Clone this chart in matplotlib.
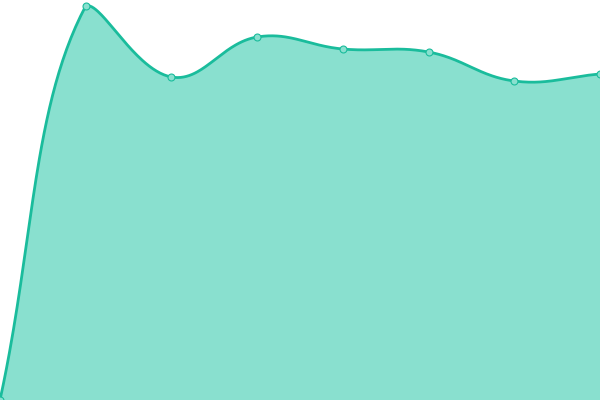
import numpy as np
import matplotlib
matplotlib.use("Agg")
import matplotlib.pyplot as plt

# data
labels = ["1", "2", "3", "4", "5", "6", "7", "8"]
values = [0, 394, 323, 363, 351, 348, 319, 326]

LINE = "#1abc9c"
FILL = "#89e0cf"

fig = plt.figure(figsize=(6, 4), dpi=100)
ax = fig.add_axes([0, 0, 1, 1])
ax.set_xlim(0, len(values) - 1)
ax.set_ylim(0, 400)
ax.axis("off")

xs = np.arange(len(values), dtype=float)
pts = ax.transData.transform(np.column_stack([xs, values]))
W, H = fig.bbox.width, fig.bbox.height

# Chart.js-style spline (tension 0.4) in display space
t = 0.4
n = len(pts)
cp_prev = np.zeros_like(pts)
cp_next = np.zeros_like(pts)
for i in range(n):
    p1 = pts[i]
    p0 = pts[i - 1] if i > 0 else p1
    p2 = pts[i + 1] if i < n - 1 else p1
    d01 = np.hypot(*(p1 - p0))
    d12 = np.hypot(*(p2 - p1))
    tot = d01 + d12
    s01 = d01 / tot if tot else 0
    s12 = d12 / tot if tot else 0
    cp_prev[i] = p1 - t * s01 * (p2 - p0)
    cp_next[i] = p1 + t * s12 * (p2 - p0)
for arr in (cp_prev, cp_next):
    arr[:, 0] = np.clip(arr[:, 0], 0, W)
    arr[:, 1] = np.clip(arr[:, 1], 0, H)

curve = []
u = np.linspace(0, 1, 60)[:, None]
for i in range(n - 1):
    P0, P1, P2, P3 = pts[i], cp_next[i], cp_prev[i + 1], pts[i + 1]
    seg = ((1 - u) ** 3) * P0 + 3 * ((1 - u) ** 2) * u * P1 + 3 * (1 - u) * u ** 2 * P2 + u ** 3 * P3
    curve.append(seg if i == 0 else seg[1:])
curve = np.vstack(curve)
cdata = ax.transData.inverted().transform(curve)

ax.fill_between(cdata[:, 0], cdata[:, 1], 0, color=FILL, lw=0, zorder=1)
ax.plot(cdata[:, 0], cdata[:, 1], color=LINE, lw=2.0, zorder=2, solid_capstyle="round")
ax.plot(xs, values, "o", ms=5, mfc=FILL, mec=LINE, mew=0.8, zorder=3, clip_on=False)

fig.savefig("out.png", dpi=100)
